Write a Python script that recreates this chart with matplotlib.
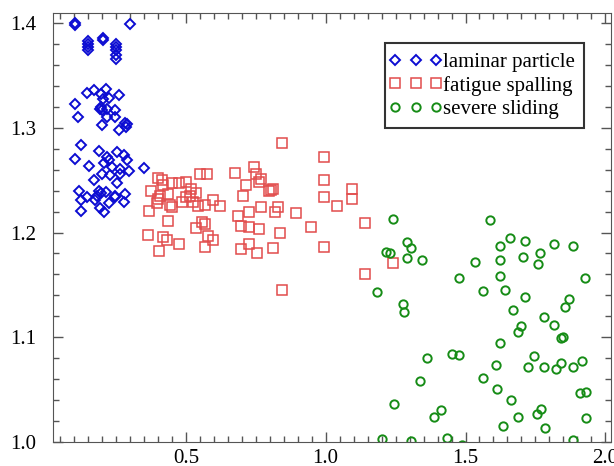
import matplotlib
matplotlib.use("Agg")
import matplotlib.pyplot as plt
from matplotlib.ticker import MultipleLocator
from matplotlib.legend_handler import HandlerLine2D
from matplotlib.lines import Line2D

plt.rcParams['font.family'] = ['Liberation Serif', 'DejaVu Serif']

# laminar particle
laminar_x = [0.103, 0.105, 0.301, 0.151, 0.151, 0.151, 0.151, 0.203, 0.205,
             0.251, 0.251, 0.251, 0.251, 0.251,
             0.145, 0.171, 0.195, 0.216, 0.204, 0.225, 0.260, 0.103, 0.193, 0.201,
             0.219, 0.248, 0.115, 0.201, 0.219, 0.248, 0.262, 0.284, 0.290, 0.287,
             0.195, 0.126, 0.103, 0.189, 0.219, 0.225, 0.254, 0.278, 0.290, 0.154,
             0.207, 0.236, 0.266, 0.296, 0.351, 0.201, 0.230, 0.254, 0.171, 0.266,
             0.118, 0.189, 0.195, 0.183, 0.213, 0.124, 0.148, 0.177, 0.248, 0.284,
             0.225, 0.280, 0.126, 0.193, 0.209, 0.245]
laminar_y = [1.398, 1.400, 1.399, 1.383, 1.380, 1.377, 1.374, 1.386, 1.384,
             1.380, 1.377, 1.374, 1.370, 1.366,
             1.333, 1.336, 1.332, 1.337, 1.328, 1.329, 1.331, 1.323, 1.318, 1.317,
             1.318, 1.317, 1.310, 1.303, 1.310, 1.310, 1.298, 1.305, 1.304, 1.301,
             1.320, 1.284, 1.270, 1.278, 1.272, 1.269, 1.277, 1.274, 1.269, 1.264,
             1.266, 1.263, 1.261, 1.259, 1.262, 1.256, 1.255, 1.247, 1.250, 1.256,
             1.240, 1.240, 1.238, 1.235, 1.239, 1.231, 1.234, 1.231, 1.235, 1.237,
             1.228, 1.229, 1.221, 1.223, 1.220, 1.234]

# fatigue spalling
fatigue_x = [0.402, 0.414, 0.420, 0.449, 0.476, 0.502, 0.550, 0.576, 0.376, 0.408,
             0.402, 0.437, 0.443, 0.449, 0.485, 0.502, 0.514, 0.520, 0.538, 0.526,
             0.544, 0.567, 0.597, 0.621, 0.370, 0.396, 0.437, 0.535, 0.559, 0.567,
             0.579, 0.597, 0.364, 0.420, 0.431, 0.476, 0.405, 0.567,
             0.677, 0.745, 0.751, 0.768, 0.762, 0.715, 0.703, 0.804, 0.798, 0.812,
             0.768, 0.831, 0.819, 0.727, 0.686, 0.895, 0.697, 0.725, 0.762, 0.837,
             0.946, 0.697, 0.727, 0.753, 0.810,
             0.845, 0.993, 0.993, 0.993, 1.093, 1.093, 1.040, 1.141, 0.993, 1.141,
             0.845, 1.241]
fatigue_y = [1.252, 1.250, 1.245, 1.247, 1.247, 1.248, 1.256, 1.256, 1.240, 1.235,
             1.232, 1.237, 1.226, 1.224, 1.229, 1.234, 1.235, 1.242, 1.238, 1.229,
             1.225, 1.226, 1.231, 1.225, 1.221, 1.228, 1.211, 1.204, 1.210, 1.208,
             1.197, 1.193, 1.198, 1.196, 1.193, 1.189, 1.182, 1.186,
             1.257, 1.263, 1.256, 1.251, 1.248, 1.245, 1.235, 1.241, 1.240, 1.242,
             1.224, 1.224, 1.220, 1.220, 1.216, 1.219, 1.206, 1.205, 1.203, 1.200,
             1.205, 1.184, 1.189, 1.180, 1.185,
             1.286, 1.272, 1.250, 1.234, 1.242, 1.232, 1.225, 1.209, 1.186, 1.160,
             1.145, 1.171]

# severe sliding
severe_x = [1.241, 1.587, 1.658, 1.714, 1.625, 1.817, 1.885, 1.292, 1.306, 1.214,
            1.229, 1.292, 1.345, 1.534, 1.625, 1.705, 1.765, 1.761, 1.478, 1.623,
            1.926, 1.184, 1.564, 1.640, 1.714, 1.870, 1.856, 1.277, 1.279, 1.669,
            1.779, 1.815, 1.699, 1.687, 1.841, 1.847, 1.622, 1.363, 1.452, 1.478,
            1.746, 1.608, 1.722, 1.779, 1.824, 1.841, 1.885, 1.918, 1.563, 1.339,
            1.611, 1.911, 1.930, 1.661, 1.243, 1.413, 1.389, 1.687, 1.755, 1.770,
            1.930, 1.634, 1.785, 1.202, 1.306, 1.433, 1.883, 1.487]
severe_y = [1.213, 1.212, 1.195, 1.192, 1.187, 1.189, 1.187, 1.191, 1.185, 1.181,
            1.180, 1.176, 1.174, 1.172, 1.174, 1.177, 1.180, 1.170, 1.157, 1.158,
            1.157, 1.143, 1.144, 1.145, 1.138, 1.136, 1.129, 1.132, 1.124, 1.126,
            1.119, 1.112, 1.111, 1.105, 1.099, 1.100, 1.094, 1.080, 1.084, 1.083,
            1.082, 1.073, 1.071, 1.071, 1.070, 1.075, 1.071, 1.077, 1.061, 1.058,
            1.050, 1.047, 1.048, 1.040, 1.036, 1.030, 1.024, 1.024, 1.027, 1.031,
            1.023, 1.015, 1.013, 1.003, 1.001, 1.004, 1.002, 0.997]

fig = plt.figure(figsize=(6.14, 4.66), dpi=100)
ax = fig.add_axes([0.0863, 0.052, 0.9087, 0.9205])

ax.plot(laminar_x, laminar_y, 'D', ls='none', ms=5.5, mfc='none', mec='#0c0cd2',
        mew=1.4, label='laminar particle')
ax.plot(fatigue_x, fatigue_y, 's', ls='none', ms=7, mfc='none', mec='#e24c4c',
        mew=1.1, label='fatigue spalling')
ax.plot(severe_x, severe_y, 'o', ls='none', ms=6, mfc='none', mec='#168c16',
        mew=1.4, label='severe sliding')

ax.set_xlim(0.025, 2.02)
ax.set_ylim(1.0, 1.41)
ax.xaxis.set_major_locator(MultipleLocator(0.5))
ax.xaxis.set_minor_locator(MultipleLocator(0.05))
ax.yaxis.set_major_locator(MultipleLocator(0.1))
ax.yaxis.set_minor_locator(MultipleLocator(0.02))
ax.tick_params(which='both', direction='in', top=True, right=True, colors='#555555',
               labelcolor='black', labelsize=15)
ax.tick_params(which='major', length=7, width=1)
ax.tick_params(which='minor', length=4, width=1)
ax.tick_params(axis='y', pad=12)
ax.tick_params(axis='x', pad=5)
for s in ax.spines.values():
    s.set_color('#555555')

leg = ax.legend(loc='upper right', bbox_to_anchor=(0.9516, 0.929), borderaxespad=0,
                numpoints=3, fontsize=15, handlelength=2.0, handletextpad=0.3,
                labelspacing=0.17, borderpad=0.45, fancybox=False, framealpha=1,
                edgecolor='#333333',
                handler_map={Line2D: HandlerLine2D(marker_pad=0)})
leg.get_frame().set_linewidth(1.5)

fig.savefig('out.png', dpi=100)
